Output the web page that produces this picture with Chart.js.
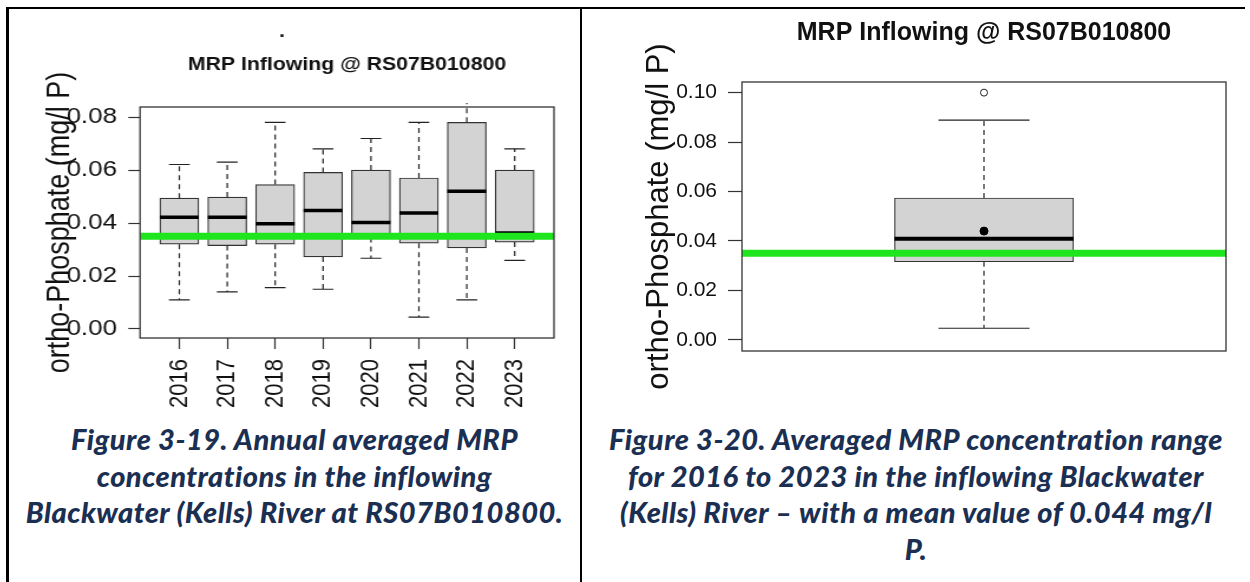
<!DOCTYPE html>
<html>
<head>
<meta charset="utf-8">
<script src="https://cdn.jsdelivr.net/npm/chart.js@4.4.1/dist/chart.umd.min.js"></script>
<style>
  html, body { margin: 0; padding: 0; background: #fff; }
  body { width: 1250px; height: 582px; position: relative; overflow: hidden; }
  .rule { position: absolute; background: #000; }
  #wrapA { position: absolute; left: 10px; top: 20px; width: 479px; height: 400px; transform: scaleX(1.18); transform-origin: 0 0; }
  #wrapB { position: absolute; left: 590px; top: 0; width: 660px; height: 400px; }
  .cap { position: absolute; top: 421px; font-family: Lato, 'Open Sans', sans-serif; font-weight: 900; font-style: italic;
         font-size: 29px; letter-spacing: 0.5px; line-height: 36.5px; color: #1b2f52; text-align: center; white-space: nowrap; }
</style>
</head>
<body>
<div class="rule" style="left:6px;top:7px;width:1239px;height:2px"></div>
<div class="rule" style="left:6px;top:7px;width:3px;height:575px"></div>
<div class="rule" style="left:580px;top:7px;width:2px;height:575px"></div>

<div id="wrapA"><canvas id="chartA" width="479" height="400"></canvas></div>
<div id="wrapB"><canvas id="chartB" width="660" height="400"></canvas></div>

<div class="cap" style="left:9px;width:571px">Figure 3-19. Annual averaged MRP<br>concentrations in the inflowing<br>Blackwater (Kells) River at RS07B010800.</div>
<div class="cap" style="left:582px;width:668px">Figure 3-20. Averaged MRP concentration range<br>for 2016 to 2023 in the inflowing Blackwater<br>(Kells) River – with a mean value of 0.044 mg/l<br>P.</div>

<script>
// ---- annual boxes (Figure 3-19) ----
const YEARS    = ['2016', '2017', '2018', '2019', '2020', '2021', '2022', '2023'];
const WHISK_LO = [0.011, 0.014, 0.0156, 0.015, 0.0267, 0.0045, 0.011, 0.0259];
const Q1       = [0.032, 0.0315, 0.032, 0.0272, 0.0345, 0.0324, 0.0306, 0.0328];
const MEDIAN   = [0.0422, 0.0422, 0.0397, 0.0447, 0.0402, 0.0438, 0.052, 0.0362];
const Q3       = [0.0494, 0.0498, 0.0545, 0.0591, 0.060, 0.057, 0.078, 0.060];
const WHISK_HI = [0.0621, 0.063, 0.078, 0.068, 0.0719, 0.078, 0.092, 0.068];
const Y_TICKS_A = [0, 0.02, 0.04, 0.06, 0.08];

// ---- all years pooled (Figure 3-20) ----
const ALL_LO   = [0.0047];
const ALL_Q1   = [0.0316];
const ALL_MED  = [0.0409];
const ALL_Q3   = [0.0574];
const ALL_HI   = [0.0889];
const ALL_MEAN = [0.044];
const ALL_OUT  = [0.100];
const Y_TICKS_B = [0, 0.02, 0.04, 0.06, 0.08, 0.10];

const GUIDE = 0.035;   // green reference line
const TITLE = 'MRP Inflowing @ RS07B010800';
const YLABEL = 'ortho-Phosphate (mg/l P)';

const FONT = "'Liberation Sans', Arial, Helvetica, sans-serif";
const INK = '#111';
const GREEN = '#1ee51e';
const BOXFILL = '#d3d3d3';

Chart.defaults.font.family = FONT;
Chart.defaults.color = INK;

// axis ranges (R style 4% padding around the boxes)
const XA = [0.18, 8.82];
const YA = [-0.0034, 0.0838];
const XB = [0.46, 1.54];
const YB = [-0.0045, 0.1043];

const frame = {
  id: 'frame',
  afterDraw(chart) {
    const { ctx, chartArea: a } = chart;
    ctx.save();
    ctx.strokeStyle = '#333';
    ctx.lineWidth = 1.3;
    ctx.strokeRect(a.left, a.top, a.right - a.left, a.bottom - a.top);
    ctx.restore();
  }
};

function whiskers(xs, lo, q1, q3, hi) {
  const pts = [];
  xs.forEach((x, i) => {
    pts.push({ x, y: q3[i] }, { x, y: hi[i] }, { x, y: null });
    pts.push({ x, y: q1[i] }, { x, y: lo[i] }, { x, y: null });
  });
  return pts;
}

function boxDatasets(xs, lo, q1, med, q3, hi, sz) {
  return [
    {
      type: 'bar', order: 5, data: xs.map((x, i) => ({ x, y: [q1[i], q3[i]] })),
      backgroundColor: BOXFILL, borderColor: '#333', borderWidth: 1.2, borderSkipped: false,
      barThickness: sz.box, grouped: false
    },
    {
      type: 'line', order: 4, data: whiskers(xs, lo, q1, q3, hi), spanGaps: false,
      borderColor: '#222', borderWidth: 1.2, borderDash: [5, 4], pointRadius: 0,
      clip: { left: 0, top: 4, right: 0, bottom: 0 }
    },
    {
      type: 'scatter', order: 3, data: xs.flatMap((x, i) => [{ x, y: lo[i] }, { x, y: hi[i] }]),
      pointStyle: 'line', pointRadius: sz.cap, pointBorderWidth: 1.2, pointBorderColor: '#222',
      clip: { left: 0, top: 0, right: 0, bottom: 0 }
    },
    {
      type: 'scatter', order: 2, data: xs.map((x, i) => ({ x, y: med[i] })),
      pointStyle: 'line', pointRadius: sz.box / 2, pointBorderWidth: sz.med, pointBorderColor: '#000'
    }
  ];
}

function guideLine(xr) {
  return {
    type: 'line', order: 0, data: [{ x: xr[0], y: GUIDE }, { x: xr[1], y: GUIDE }],
    borderColor: GREEN, borderWidth: 7, pointRadius: 0, borderCapStyle: 'butt'
  };
}

const xsA = YEARS.map((_, i) => i + 1);

new Chart(document.getElementById('chartA'), {
  type: 'bar',
  data: {
    datasets: boxDatasets(xsA, WHISK_LO, Q1, MEDIAN, Q3, WHISK_HI, { box: 33, cap: 8.8, med: 3.5 })
      .concat([guideLine(XA)])
  },
  options: {
    responsive: false, animation: false, events: [],
    layout: { autoPadding: false, padding: { left: 0, right: 18, top: 0, bottom: 0 } },
    plugins: {
      legend: { display: false }, tooltip: { enabled: false },
      title: { display: true, text: '.', fullSize: true, color: INK, font: { size: 18, weight: 'bold' }, padding: { top: 1.2, bottom: 0 } },
      subtitle: { display: true, text: TITLE, fullSize: false, color: INK, font: { size: 18, weight: 'bold' }, padding: { top: 11.4, bottom: 31.2 } }
    },
    scales: {
      x: {
        type: 'linear', min: XA[0], max: XA[1], offset: false,
        afterBuildTicks: s => { s.ticks = xsA.map(v => ({ value: v })); },
        afterFit: s => { s.height = 82; },
        border: { display: false },
        grid: { offset: false, drawOnChartArea: false, drawTicks: true, tickLength: 11, tickColor: '#333', tickWidth: 1.2 },
        ticks: { autoSkip: false, minRotation: 90, maxRotation: 90, padding: 10, color: INK,
                 font: { size: 22 }, callback: v => YEARS[v - 1] }
      },
      y: {
        type: 'linear', min: YA[0], max: YA[1],
        afterBuildTicks: s => { s.ticks = Y_TICKS_A.map(v => ({ value: v })); },
        afterFit: s => { s.width = 110.2; },
        border: { display: false },
        grid: { drawOnChartArea: false, drawTicks: true, tickLength: 10, tickColor: '#333', tickWidth: 1.2 },
        ticks: { padding: 9.5, color: INK, font: { size: 22 }, callback: v => v.toFixed(2) },
        title: { display: true, text: YLABEL, color: INK, font: { size: 27 }, padding: { top: 26.8, bottom: 0 } }
      }
    }
  },
  plugins: [frame]
});

const xsB = [1];

new Chart(document.getElementById('chartB'), {
  type: 'bar',
  data: {
    datasets: boxDatasets(xsB, ALL_LO, ALL_Q1, ALL_MED, ALL_Q3, ALL_HI, { box: 179, cap: 45.5, med: 4 })
      .concat([
        {
          type: 'scatter', order: 1, data: ALL_MEAN.map((v, i) => ({ x: xsB[i], y: v })),
          pointStyle: 'circle', pointRadius: 4, pointBackgroundColor: '#000', pointBorderColor: '#000', pointBorderWidth: 1
        },
        {
          type: 'scatter', order: 1, data: ALL_OUT.map((v, i) => ({ x: xsB[i], y: v })),
          pointStyle: 'circle', pointRadius: 3.5, pointBackgroundColor: '#fff', pointBorderColor: '#222', pointBorderWidth: 1
        },
        guideLine(XB)
      ])
  },
  options: {
    responsive: false, animation: false, events: [],
    layout: { autoPadding: false, padding: { left: 0, right: 24, top: 0, bottom: 49 } },
    plugins: {
      legend: { display: false }, tooltip: { enabled: false },
      title: { display: true, text: TITLE, fullSize: false, color: INK, font: { size: 25, weight: 'bold' }, padding: { top: 18, bottom: 34 } }
    },
    scales: {
      x: { type: 'linear', display: false, offset: false, min: XB[0], max: XB[1] },
      y: {
        type: 'linear', min: YB[0], max: YB[1],
        afterBuildTicks: s => { s.ticks = Y_TICKS_B.map(v => ({ value: v })); },
        afterFit: s => { s.width = 152; },
        border: { display: false },
        grid: { drawOnChartArea: false, drawTicks: true, tickLength: 14, tickColor: '#333', tickWidth: 1.2 },
        ticks: { padding: 11, color: INK, font: { size: 21 }, callback: v => v.toFixed(2) },
        title: { display: true, text: YLABEL, color: INK, font: { size: 31 }, padding: { top: 50.4, bottom: 0 } }
      }
    }
  },
  plugins: [frame]
});
</script>
</body>
</html>
